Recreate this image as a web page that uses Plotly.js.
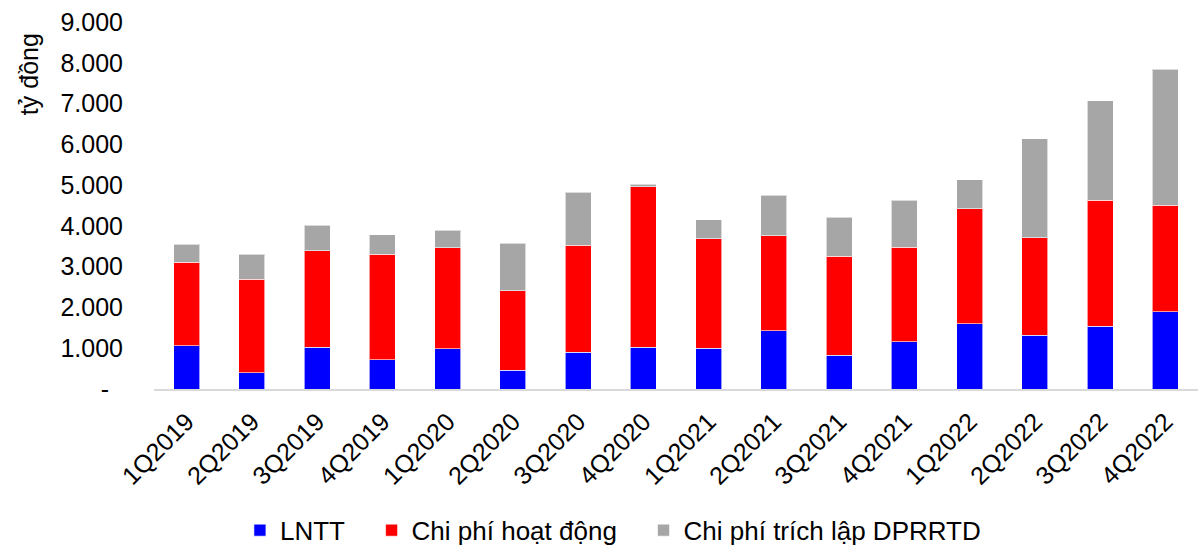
<!DOCTYPE html>
<html>
<head>
<meta charset="utf-8">
<script src="https://cdn.plot.ly/plotly-3.0.1.min.js"></script>
<style>html,body{margin:0;padding:0;background:#fff;}#chart{width:1203px;height:545px;}</style>
</head>
<body>
<div id="chart"></div>
<script>
const quarters = ["1Q2019","2Q2019","3Q2019","4Q2019","1Q2020","2Q2020","3Q2020","4Q2020","1Q2021","2Q2021","3Q2021","4Q2021","1Q2022","2Q2022","3Q2022","4Q2022"];
const lntt = [1060,400,1029,718,988,458,907,1022,1005,1429,826,1159,1601,1324,1536,1895];
const chiPhiHoatDong = [2053,2289,2361,2591,2475,1951,2622,3936,2679,2328,2426,2314,2819,2384,3096,2615];
const chiPhiTrichLap = [434,612,630,473,434,1162,1292,67,466,998,956,1151,710,2427,2434,3333];
const yTickVals = [0,1000,2000,3000,4000,5000,6000,7000,8000,9000];
const yTickText = ["-\u00A0\u00A0","1.000","2.000","3.000","4.000","5.000","6.000","7.000","8.000","9.000"];
const seriesNames = ["LNTT", "Chi phí hoạt động", "Chi phí trích lập DPRRTD"];

const FONT = "Liberation Sans, Arial, sans-serif";
const edge = {color: "rgba(255,255,255,0.6)", width: 1};
const pad = "\u00A0\u00A0\u00A0";

const traces = [
  {type: "bar", name: seriesNames[0] + pad, x: quarters, y: lntt, marker: {color: "#0000FF", line: edge}},
  {type: "bar", name: seriesNames[1] + pad, x: quarters, y: chiPhiHoatDong, marker: {color: "#FF0000", line: edge}},
  {type: "bar", name: seriesNames[2], x: quarters, y: chiPhiTrichLap, marker: {color: "#A6A6A6", line: edge}}
];

const layout = {
  width: 1203, height: 545,
  margin: {l: 154, r: 5, t: 22, b: 156},
  barmode: "stack",
  bargap: 0.6,
  paper_bgcolor: "#fff", plot_bgcolor: "#fff",
  font: {family: FONT, size: 25, color: "#000"},
  showlegend: true,
  legend: {
    orientation: "h",
    x: 0.0823, xanchor: "left",
    yref: "container",
    y: 0.027, yanchor: "middle",
    font: {family: FONT, size: 26, color: "#000"},
    traceorder: "normal"
  },
  xaxis: {
    type: "category",
    automargin: false,
    tickangle: -45,
    showgrid: false,
    showline: true, linecolor: "#D9D9D9", linewidth: 2,
    ticks: "",
    ticklabelstandoff: 6,
    tickfont: {family: FONT, size: 25, color: "#000"},
    zeroline: false
  },
  yaxis: {
    range: [0, 9000],
    automargin: false,
    tickvals: yTickVals, ticktext: yTickText,
    showgrid: false, showline: false, zeroline: false,
    ticks: "",
    ticklabelstandoff: 30,
    tickfont: {family: FONT, size: 25, color: "#000"}
  },
  annotations: [{
    text: "tỷ đồng",
    xref: "paper", yref: "paper",
    x: -0.1197, y: 0.858,
    xanchor: "center", yanchor: "middle",
    textangle: -90,
    showarrow: false,
    font: {family: FONT, size: 25, color: "#000"}
  }]
};

Plotly.newPlot("chart", traces, layout, {displayModeBar: false, staticPlot: true});
</script>
</body>
</html>
